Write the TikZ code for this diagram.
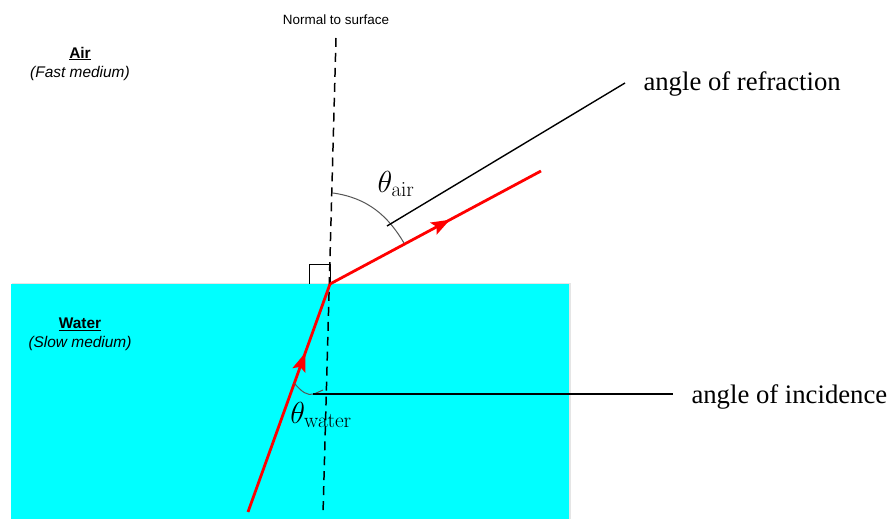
\RequirePackage{fix-cm}
\documentclass[tikz,border=0pt]{standalone}
\usepackage[no-math]{fontspec}
\setmainfont{Liberation Serif}
\setsansfont{Liberation Sans}
\usetikzlibrary{arrows.meta,positioning,calc,decorations.markings}
\definecolor{water}{HTML}{00FFFF}
\definecolor{ray}{HTML}{FF0000}
\definecolor{arcgrey}{HTML}{555555}
\tikzset{
  medium/.style={font=\sffamily\fontsize{15.5}{17}\selectfont, align=center, inner sep=0pt},
  tag/.style={font=\fontsize{26.8}{30}\selectfont, anchor=west},
  angletext/.style={font=\fontsize{30.5}{34}\selectfont},
  normal/.style={dashed, dash pattern=on 9pt off 6pt, line width=1.5pt},
  beam/.style={draw=ray, line width=2.8pt},
  midarrow/.style={postaction={decorate}, decoration={markings,
      mark=at position #1 with {\fill[ray] (2pt,0pt) -- (-17pt,7pt) -- (-13pt,0pt) -- (-17pt,-7pt) -- cycle;}}},
  pointer/.style={line width=1.4pt},
  anglearc/.style={draw=arcgrey, line width=1pt},
}
\begin{document}
\begin{tikzpicture}[x=1bp,y=-1bp]
  \useasboundingbox (0,0) rectangle (891,519);

  % water block
  \fill[black!10] (12,283) rectangle (570.5,519);
  \node[fill=water, inner sep=0pt, minimum width=558bp, minimum height=235bp, anchor=north west] (pool) at (11,284) {};

  \node[medium] (air) at (80,53.5) {\textbf{\underline{Air}}};
  \node[medium, below=6pt of air] (airnote) {\textit{(Fast medium)}};
  \node[medium] (wat) at (80,324) {\textbf{\underline{Water}}};
  \node[medium, below=6pt of wat] (watnote) {\textit{(Slow medium)}};

  % normal line
  \node[medium, font=\sffamily\fontsize{13.5}{15}\selectfont] (normtext) at (336,20) {Normal to surface};
  \coordinate (ntop) at (336,38);
  \coordinate (hit) at (330,284);
  \coordinate (nbot) at (323,514);
  \draw[normal] (ntop) -- (nbot);
  \draw[line width=0.8pt] (hit) ++(-21,0) coordinate (sq) -- ++(0,-20) -- ++(21,0) -- (hit);

  % rays
  \coordinate (src) at (248,512);
  \coordinate (out) at (541,171);
  \draw[beam, midarrow=0.69] (src) -- (hit);
  \draw[beam, midarrow=0.56] (hit) -- (out);

  % angles
  \coordinate (ra) at (333,193);
  \coordinate (rb) at (404,243);
  \draw[anglearc] (ra) .. controls (368,198) and (388,216) .. (rb);
  \node[angletext] (tair) at (396,184) {$\theta_{\mathrm{air}}$};
  \coordinate (ia) at (294,383);
  \coordinate (ib) at (323,390);
  \draw[anglearc] (ia) .. controls (302,392) and (307,396) .. (314,394) -- (ib);
  \node[angletext] (twat) at (321,415) {$\theta_{\mathrm{water}}$};

  % pointers
  \node[tag] (refr) at (640,84) {angle of refraction};
  \node[tag] (inc) at (688,397) {angle of incidence};
  \coordinate (pa) at (387,226);
  \coordinate (pb) at (625,83);
  \draw[pointer] (pa) -- (pb);
  \coordinate (pc) at (313,394);
  \coordinate (pd) at (673,394);
  \draw[pointer] (pc) -- (pd);
\end{tikzpicture}
\end{document}
